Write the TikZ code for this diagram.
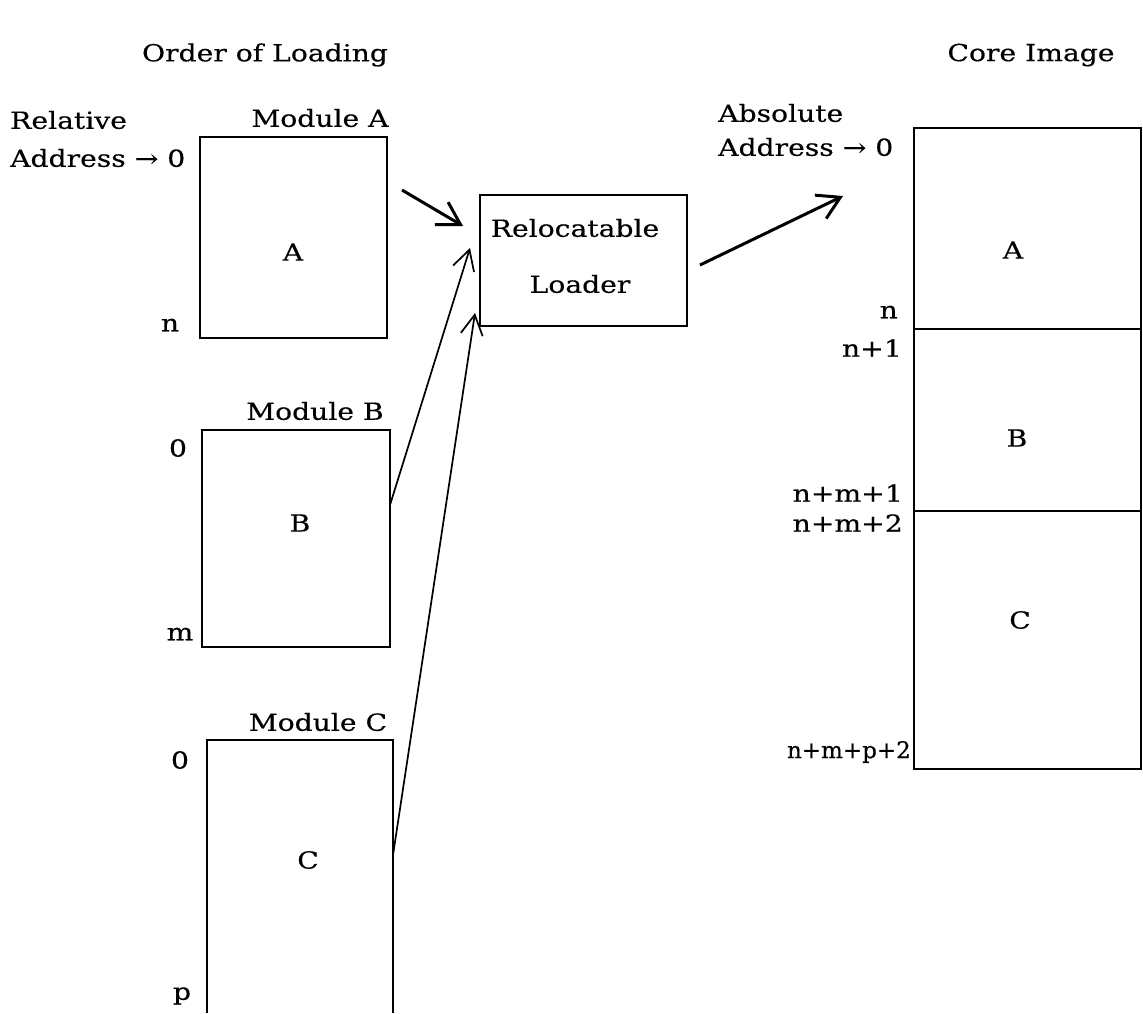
\documentclass[tikz,border=0pt]{standalone}
\usepackage{fontspec}
\setmainfont[FakeStretch=1.2,FakeBold=0.4]{DejaVu Serif}
\newfontfamily\tightfont[FakeBold=0.6]{DejaVu Serif}
\usetikzlibrary{arrows.meta}
\tikzset{
  box/.style={draw, line width=2.4pt, inner sep=0pt, outer sep=0pt},
  txt/.style={inner sep=0pt, font=\fontsize{23.5}{26}\selectfont},
  tighttxt/.style={inner sep=0pt, font=\tightfont\fontsize{23}{26}\selectfont},
  thickarr/.style={line width=3pt, -{Straight Barb[length=22pt,width=26pt]}},
  thinarr/.style={line width=1.7pt, -{Straight Barb[length=20pt,width=22pt]}},
  edge/.style={line width=2.4pt}
}
\begin{document}
\begin{tikzpicture}[x=1pt,y=-1pt]
\useasboundingbox (0,0) rectangle (1143,1013);
% headings
\node[txt] (h1) at (265,55) {Order of Loading};
\node[txt] (h2) at (1031,55) {Core Image};
% relative address
\node[txt,anchor=west] (rel) at (10,120) {Relative};
\node[txt,anchor=west] (reladdr) at (10,158) {Address → 0};
% module A
\node[box,minimum width=187pt,minimum height=201pt] (modA) at (293.5,237.5) {};
\node[txt] (labA) at (320,118) {Module A};
\node[txt] (inA) at (293,252) {A};
\node[txt] (nA) at (170,325) {n};
% module B
\node[box,minimum width=188pt,minimum height=217pt] (modB) at (296,538.5) {};
\node[txt] (labB) at (315,411) {Module B};
\node[txt] (zB) at (178,448) {0};
\node[txt] (mB) at (180,634) {m};
\node[txt] (inB) at (300,523) {B};
% module C (open at bottom)
\node[inner sep=0pt,outer sep=0pt,minimum width=186pt,minimum height=273pt] (modC) at (300,876.5) {};
\draw[edge] (modC.south west) -- (modC.north west) -- (modC.north east) -- (modC.south east);
\node[txt] (labC) at (318,722) {Module C};
\node[txt] (zC) at (180,760) {0};
\node[txt] (pC) at (182,996) {p};
\node[txt] (inC) at (308,860) {C};
% loader
\node[box,minimum width=207pt,minimum height=131pt] (loader) at (583.5,260.5) {};
\node[txt] (l1) at (575,228) {Relocatable};
\node[txt] (l2) at (580,284) {Loader};
% absolute address
\node[txt,anchor=west] (abs) at (718,113) {Absolute};
\node[txt,anchor=west] (absaddr) at (718,147) {Address → 0};
% core image
\node[box,minimum width=227pt,minimum height=201pt] (coreA) at (1027.5,228.5) {};
\node[box,minimum width=227pt,minimum height=182pt] (coreB) at (1027.5,420) {};
\node[box,minimum width=227pt,minimum height=258pt] (coreC) at (1027.5,640) {};
\node[txt] (cA) at (1013,250) {A};
\node[txt] (cB) at (1017,438) {B};
\node[txt] (cC) at (1020,620) {C};
\node[txt,anchor=east] (cn) at (898,312) {n};
\node[txt,anchor=east] (cn1) at (902,348) {n+1};
\node[txt,anchor=east] (cnm1) at (903,493) {n+m+1};
\node[txt,anchor=east] (cnm2) at (903,523) {n+m+2};
\node[tighttxt,anchor=east] (cnmp) at (911,752) {n+m+p+2};
% connectors
\coordinate (aS) at (402,190);
\coordinate (aE) at (463,226);
\coordinate (bE) at (470,248);
\coordinate (cE) at (475,313);
\coordinate (oS) at (700,265);
\coordinate (oE) at (843,196);
\draw[thickarr] (aS) -- (aE);
\draw[thinarr] ([yshift=33.5pt]modB.east) -- (bE);
\draw[thinarr] ([yshift=21.5pt]modC.east) -- (cE);
\draw[thickarr] (oS) -- (oE);
\end{tikzpicture}
\end{document}
